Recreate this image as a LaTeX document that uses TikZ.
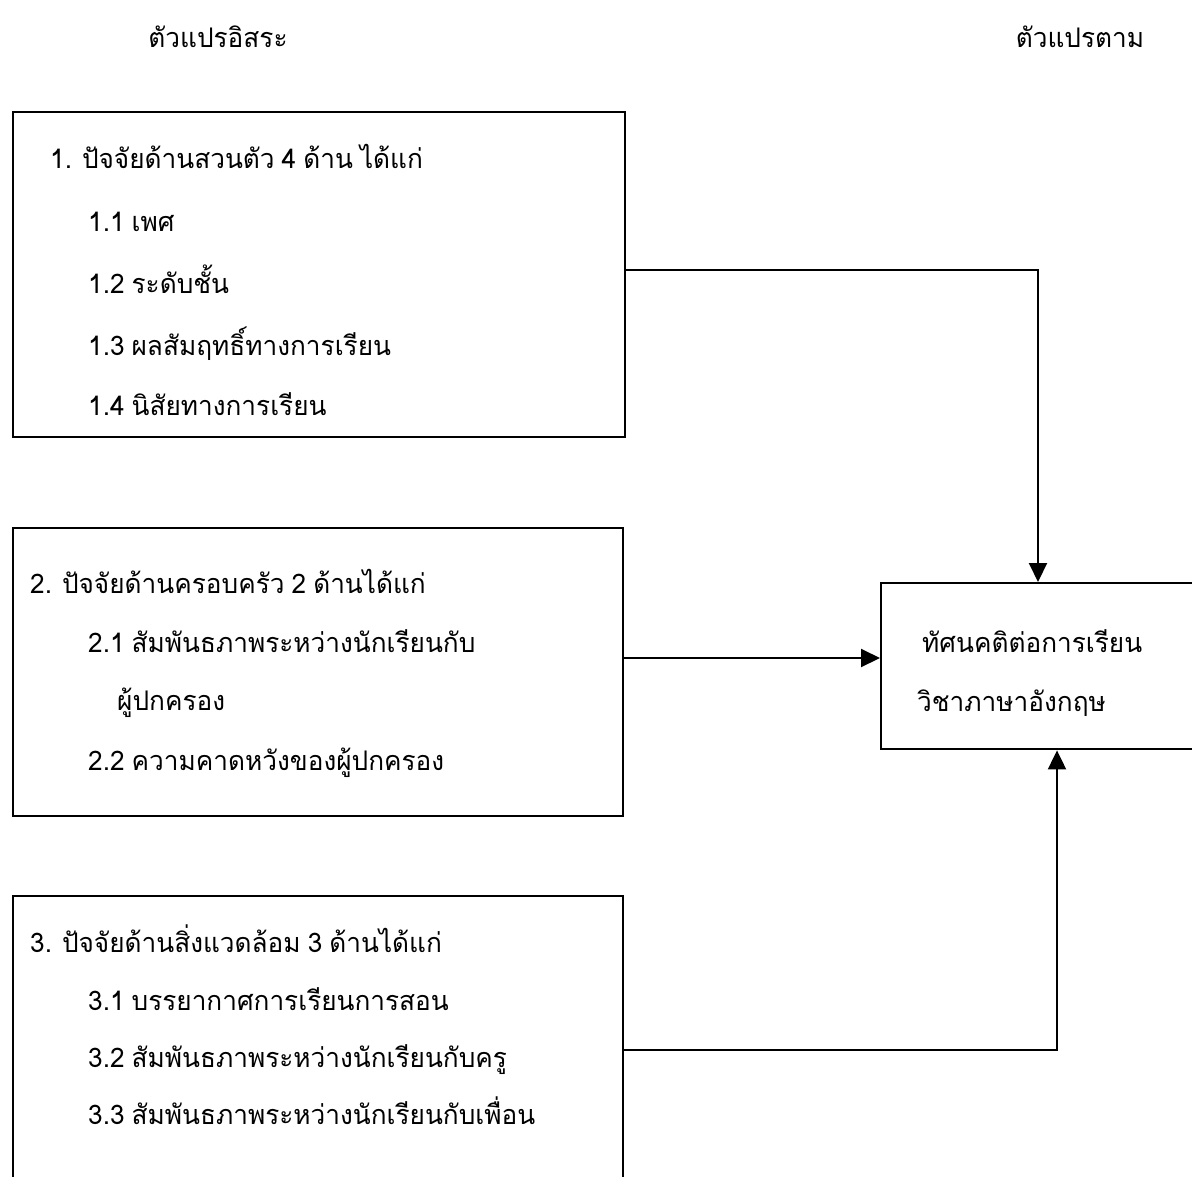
\documentclass[tikz,border=0pt]{standalone}
\usepackage{fontspec}
\newfontfamily\thaifont[Script=Thai,FakeStretch=0.97,WordSpace=0.8]{Loma}
\usetikzlibrary{arrows.meta}
\tikzset{
  box/.style={draw, line width=2.4pt, rectangle, anchor=north west, inner sep=0pt},
  txt/.style={anchor=base west, inner sep=0pt, font=\thaifont\fontsize{27}{30}\selectfont},
  arr/.style={line width=2pt, -{Triangle[length=19pt,width=18pt]}}
}
\begin{document}
\begin{tikzpicture}[x=1pt,y=-1pt]
\useasboundingbox (0,0) rectangle (1192,1176);
\clip (0,0) rectangle (1192,1176);
\fill[white] (0,0) rectangle (1192,1176);
% headers
\node[txt, anchor=base] (h1) at (218,47) {ตัวแปรอิสระ};
\node[txt, anchor=base] (h2) at (1080,47) {ตัวแปรตาม};
% boxes
\node[box, minimum width=612pt, minimum height=325pt] (b1) at (12,111) {};
\node[box, minimum width=610pt, minimum height=288pt] (b2) at (12,527) {};
\node[box, minimum width=610pt, minimum height=310pt] (b3) at (12,895) {};
\node[box, minimum width=330pt, minimum height=166pt] (res) at (880,582) {};
% box 1 text
\node[txt] (t10) at (50,168) {1. ปัจจัยด้านสวนตัว 4 ด้าน ได้แก่};
\node[txt] (t11) at (88,231) {1.1 เพศ};
\node[txt] (t12) at (88,293) {1.2 ระดับชั้น};
\node[txt] (t13) at (88,355) {1.3 ผลสัมฤทธิ์ทางการเรียน};
\node[txt] (t14) at (88,415) {1.4 นิสัยทางการเรียน};
% box 2 text
\node[txt] (t20) at (30,593) {2. ปัจจัยด้านครอบครัว 2 ด้านได้แก่};
\node[txt] (t21) at (88,652) {2.1 สัมพันธภาพระหว่างนักเรียนกับ};
\node[txt] (t21b) at (117,710) {ผู้ปกครอง};
\node[txt] (t22) at (88,770) {2.2 ความคาดหวังของผู้ปกครอง};
% box 3 text
\node[txt] (t30) at (30,952) {3. ปัจจัยด้านสิ่งแวดล้อม 3 ด้านได้แก่};
\node[txt] (t31) at (88,1010) {3.1 บรรยากาศการเรียนการสอน};
\node[txt] (t32) at (88,1067) {3.2 สัมพันธภาพระหว่างนักเรียนกับครู};
\node[txt] (t33) at (88,1124) {3.3 สัมพันธภาพระหว่างนักเรียนกับเพื่อน};
% result text
\node[txt] (r1) at (922,652) {ทัศนคติต่อการเรียน};
\node[txt] (r2) at (917,711) {วิชาภาษาอังกฤษ};
% connectors
\draw[arr] (b1.east |- 0,270) -| (res.north -| 1038,0);
\draw[arr] (b2.east |- 0,658) -- (res.west |- 0,658);
\draw[arr] (b3.east |- 0,1050) -| (res.south -| 1057,0);
\end{tikzpicture}
\end{document}
